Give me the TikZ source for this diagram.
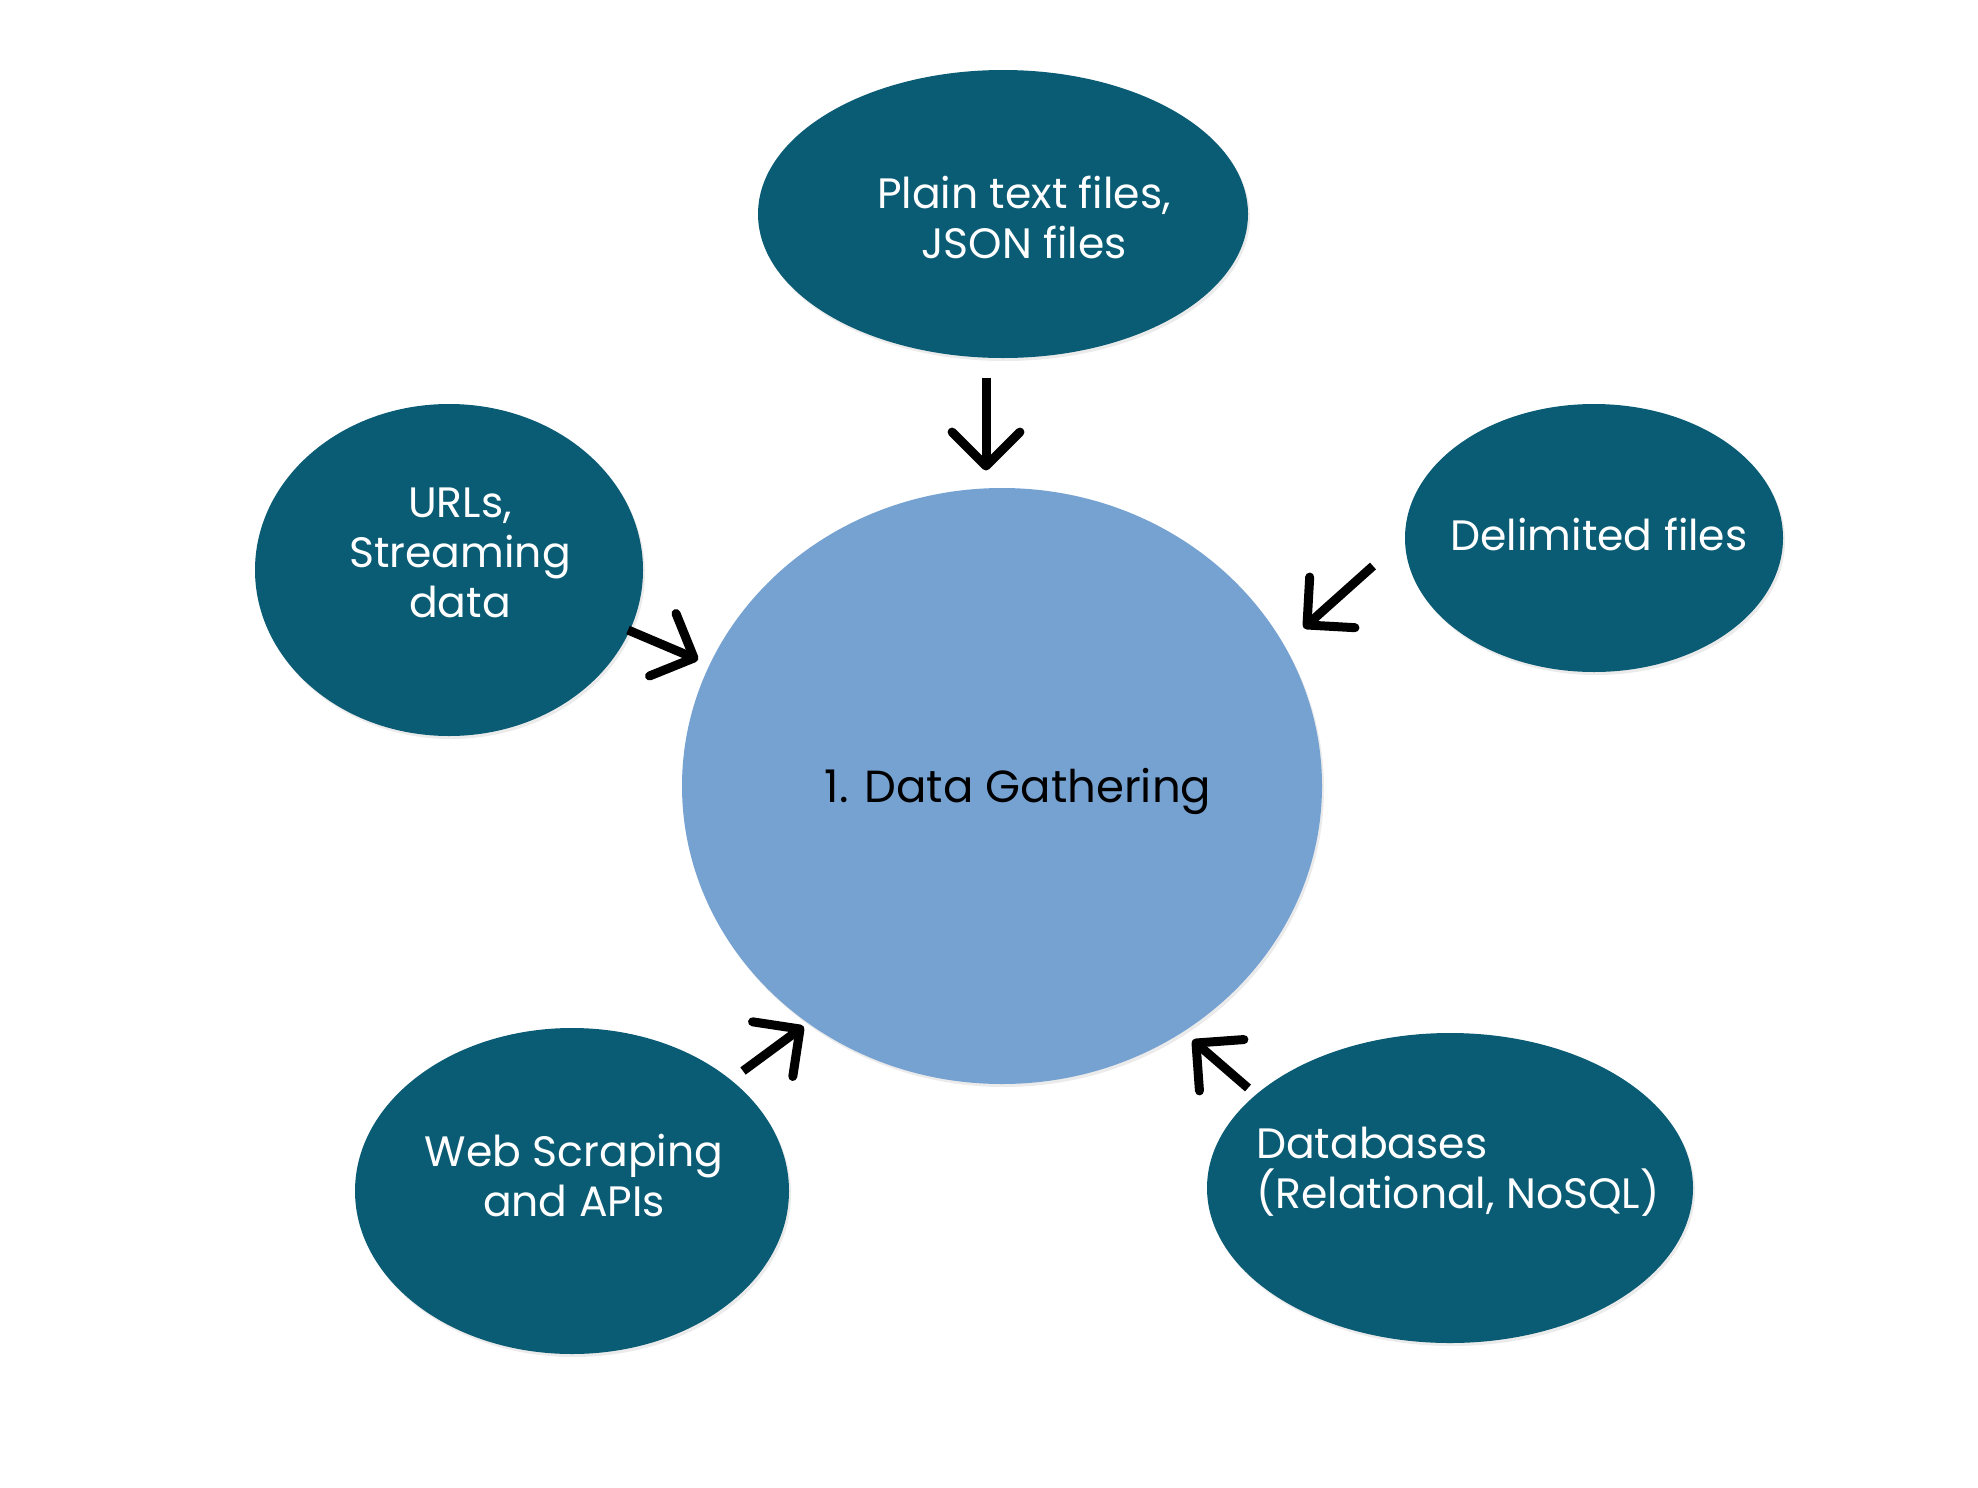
\documentclass[tikz,border=0pt]{standalone}
\usepackage{fontspec}
\setmainfont{Poppins}
\usetikzlibrary{shapes.geometric,calc,shadows}
\definecolor{tealdark}{HTML}{0A5C75}
\definecolor{hubblue}{HTML}{76A2D2}
\begin{document}
\begin{tikzpicture}[x=1pt,y=-1pt,
  shadowed/.style={drop shadow={shadow xshift=2pt,shadow yshift=-3pt,opacity=0.16}},
  src/.style={ellipse,fill=tealdark,inner sep=0pt,shadowed},
  lbl/.style={text=white,font=\fontsize{42.5}{50}\selectfont,align=center,inner sep=0pt},
  shaft/.style={line width=9pt,line cap=butt},
  head/.style={line width=9pt,line cap=round,line join=round}]
\path[use as bounding box] (0,0) rectangle (1978,1488);
% hub
\node[ellipse,fill=hubblue,inner sep=0pt,shadowed,minimum width=640pt,minimum height=596pt] (hub) at (1002,786) {};
\node[font=\fontsize{45}{50}\selectfont,inner sep=0pt,anchor=base] (hubtext) at (1018,802) {1. Data Gathering};
% sources
\node[src,minimum width=490pt,minimum height=288pt] (top) at (1003,214) {};
\node[lbl,anchor=base] (toptext) at (1024,258) {Plain text files,\\JSON files};
\node[src,minimum width=388pt,minimum height=332pt] (left) at (449,570) {};
\node[lbl,anchor=base] (lefttext) at (460,617) {URLs,\\Streaming\\data};
\node[src,minimum width=378pt,minimum height=268pt] (right) at (1594,538) {};
\node[lbl,anchor=base] (righttext) at (1599,550) {Delimited files};
\node[src,minimum width=434pt,minimum height=326pt] (web) at (572,1191) {};
\node[lbl,anchor=base] (webtext) at (574,1216) {Web Scraping\\and APIs};
\node[src,minimum width=486pt,minimum height=310pt] (db) at (1450,1188) {};
\node[lbl,align=left,anchor=base west] (dbtext) at (1256,1208) {Databases\\(Relational, NoSQL)};
% arrows
\coordinate (a1s) at (986,378); \coordinate (a1e) at (986,466);
\coordinate (a2s) at (628,630); \coordinate (a2e) at (694,658);
\coordinate (a3s) at (1373,566); \coordinate (a3e) at (1307,625);
\coordinate (a4s) at (743,1071); \coordinate (a4e) at (800,1029);
\coordinate (a5s) at (1248,1088); \coordinate (a5e) at (1196,1043);
\foreach \s/\e in {a1s/a1e,a2s/a2e,a3s/a3e,a4s/a4e,a5s/a5e}{
  \draw[shaft] (\s) -- ($(\e)!4pt!(\s)$);
  \draw[head] ($(\e)!48pt!45:(\s)$) -- (\e) -- ($(\e)!48pt!-45:(\s)$);
}
\end{tikzpicture}
\end{document}
